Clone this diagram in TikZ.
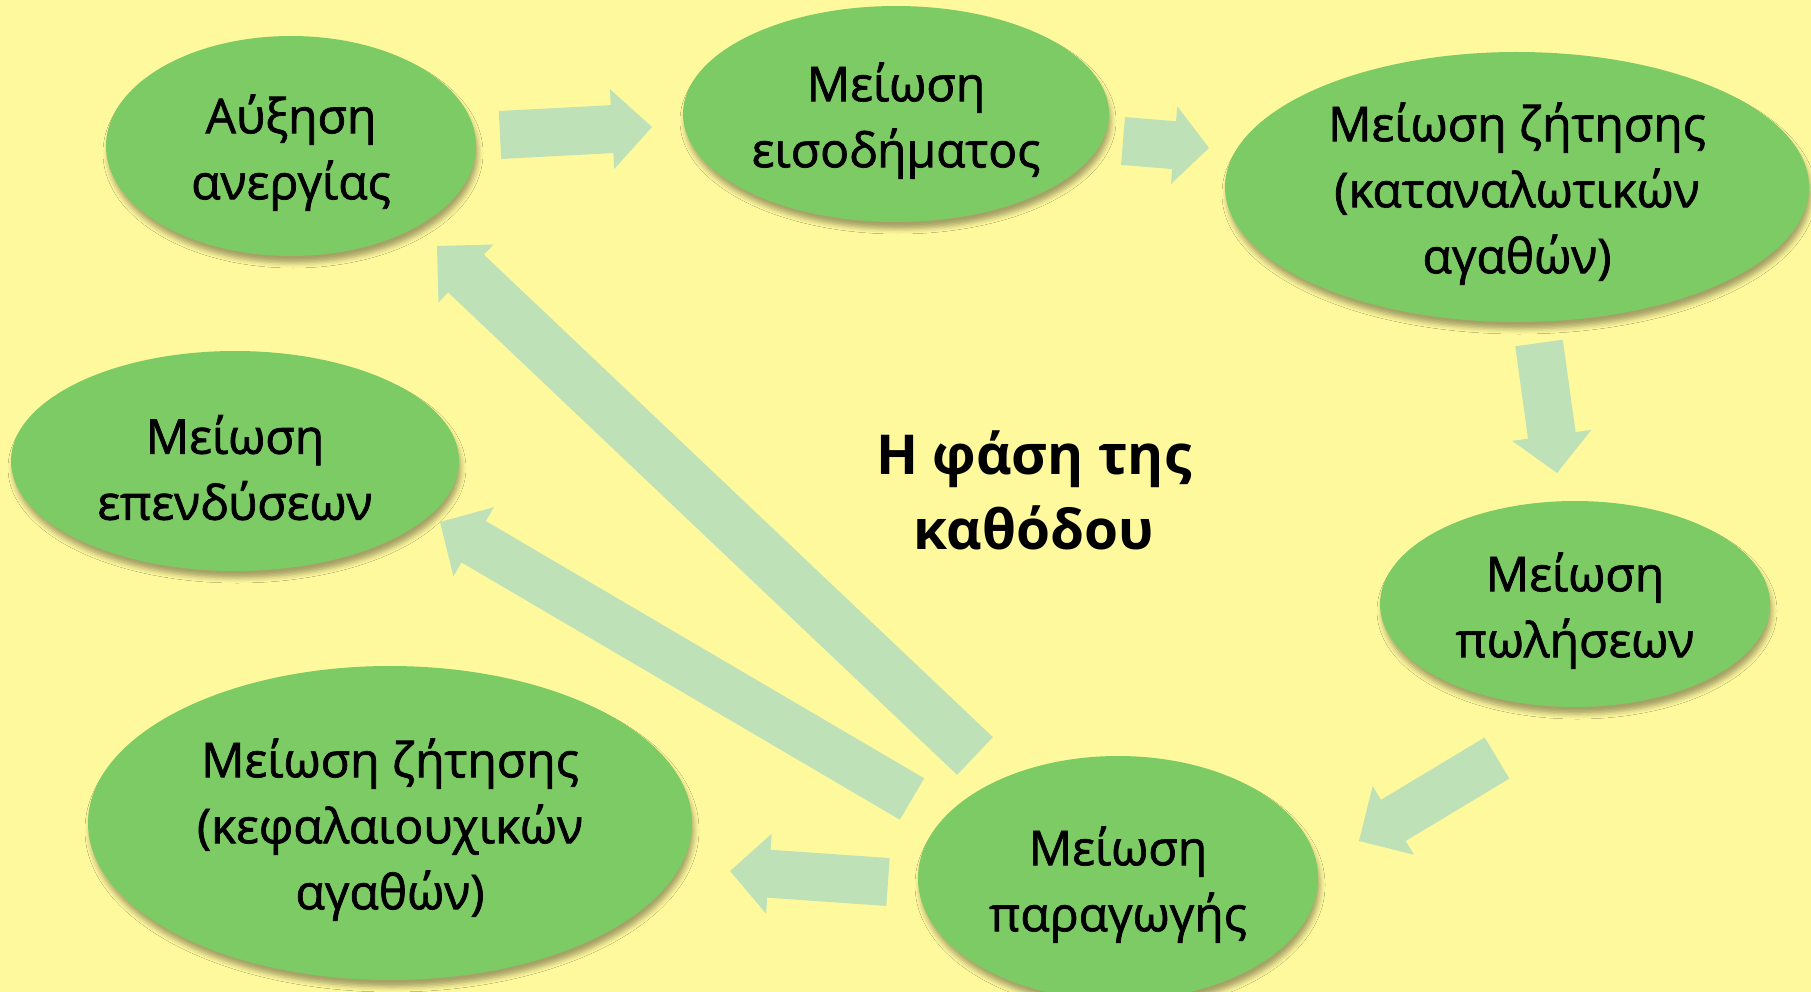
\documentclass[tikz,border=0pt]{standalone}
\usepackage{fontspec}
\setmainfont{Open Sans}
\newfontfamily\bubblefont{Open Sans}[FakeBold=1.5]
\usetikzlibrary{shapes.geometric,calc,shadows.blur}
\definecolor{bgc}{RGB}{255,249,158}
\definecolor{ellc}{RGB}{125,203,101}
\definecolor{arrc}{RGB}{191,225,183}
\newcommand\tstrut{\rule{0pt}{52pt}}
\tikzset{
  bubble/.style={ellipse, fill=ellc, inner xsep=0pt, inner ysep=-30pt, align=center,
    font=\bubblefont\fontsize{48}{66}\selectfont,
    blur shadow={shadow xshift=2pt, shadow yshift=-7pt, shadow blur radius=5pt, shadow opacity=35}},
  title/.style={align=center, font=\bfseries\fontsize{55}{75}\selectfont}
}
% block arrow: from, to, half shaft width, half head width, head length
\newcommand\blockarrow[5]{%
  \coordinate (ba-h) at ($(#2)!#5!(#1)$);
  \fill[arrc] ($(#1)!#3!90:(#2)$) -- ($(ba-h)!#3!90:(#2)$) -- ($(ba-h)!#4!90:(#2)$)
     -- (#2) -- ($(ba-h)!#4!-90:(#2)$) -- ($(ba-h)!#3!-90:(#2)$) -- ($(#1)!#3!-90:(#2)$) -- cycle;}
\begin{document}
\begin{tikzpicture}[x=1pt,y=-1pt]
\useasboundingbox (0,0) rectangle (1811,992);
\clip (0,0) rectangle (1811,992);
\fill[bgc] (0,0) rectangle (1811,992);

\node[bubble, minimum width=370pt, minimum height=220pt] (anerg) at (291,146) {\tstrut Αύξηση\\ανεργίας};
\node[bubble, minimum width=426pt, minimum height=216pt] (eisod) at (896,114) {\tstrut Μείωση\\εισοδήματος};
\node[bubble, minimum width=584pt, minimum height=270pt] (zitk) at (1517,187) {\tstrut Μείωση ζήτησης\\(καταναλωτικών\\αγαθών)};
\node[bubble, minimum width=390pt, minimum height=206pt] (polis) at (1575,604) {\tstrut Μείωση\\πωλήσεων};
\node[bubble, minimum width=400pt, minimum height=244pt] (parag) at (1118,878) {\tstrut Μείωση\\παραγωγής};
\node[bubble, minimum width=604pt, minimum height=314pt] (zitkef) at (390,823) {\tstrut Μείωση ζήτησης\\(κεφαλαιουχικών\\αγαθών)};
\node[bubble, minimum width=448pt, minimum height=220pt] (epend) at (235,461) {\tstrut Μείωση\\επενδύσεων};

\node[title] (titlos) at (1034,490) {Η φάση της\\καθόδου};

\coordinate (a1s) at (500,135);  \coordinate (a1e) at (652,127);
\coordinate (a2s) at (1123,141); \coordinate (a2e) at (1209,148);
\coordinate (a3s) at (1539,343); \coordinate (a3e) at (1557,473);
\coordinate (a4s) at (1497,758); \coordinate (a4e) at (1359,841);
\coordinate (a5s) at (888,882);  \coordinate (a5e) at (730,871);
\coordinate (a6s) at (912,799);  \coordinate (a6e) at (440,522);
\coordinate (a7s) at (975,756);  \coordinate (a7e) at (437,246);

\blockarrow{a1s}{a1e}{24pt}{40pt}{40pt}
\blockarrow{a2s}{a2e}{24pt}{39pt}{35pt}
\blockarrow{a3s}{a3e}{24pt}{40pt}{38pt}
\blockarrow{a4s}{a4e}{24pt}{40pt}{40pt}
\blockarrow{a5s}{a5e}{24pt}{40pt}{39pt}
\blockarrow{a6s}{a6e}{24pt}{40pt}{39pt}
\blockarrow{a7s}{a7e}{26pt}{40pt}{40pt}
\end{tikzpicture}
\end{document}
